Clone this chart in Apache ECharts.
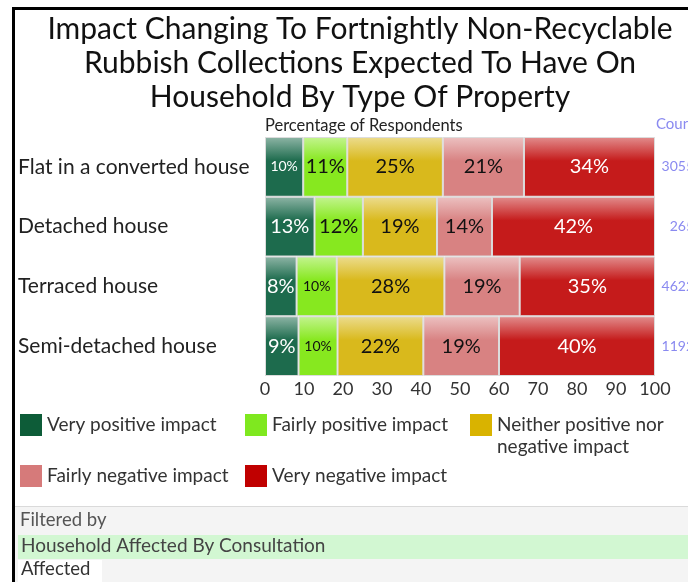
<!DOCTYPE html>
<html>
<head>
<meta charset="utf-8">
<script src="https://cdn.jsdelivr.net/npm/echarts@6/dist/echarts.min.js"></script>
<style>
  html, body { margin: 0; padding: 0; background: #fff; }
  #chart { width: 688px; height: 582px; }
</style>
</head>
<body>
<div id="chart"></div>
<script>
// categories (top to bottom)
var categories = ["Flat in a converted house", "Detached house", "Terraced house", "Semi-detached house"];
var counts = ["3055", "265", "4622", "1192"];
var seriesNames = ["Very positive impact", "Fairly positive impact", "Neither positive nor\nnegative impact", "Fairly negative impact", "Very negative impact"];
// percentages
var veryPositive = [9.8, 12.7, 8.1, 8.6];
var fairlyPositive = [11.3, 12.4, 10.3, 10.0];
var neither = [24.5, 19.0, 27.6, 22.0];
var fairlyNegative = [20.8, 14.1, 19.3, 19.4];
var veryNegative = [33.6, 41.8, 34.7, 40.0];
var xTicks = [0, 10, 20, 30, 40, 50, 60, 70, 80, 90, 100];

var barColors = ["#1d6b4d", "#87e81f", "#d9b91c", "#d88282", "#c51b1b"];
var legendColors = ["#0d5c38", "#7fe81f", "#d9b300", "#d67a7a", "#c00000"];
var labelColors = ["#fff", "#111", "#111", "#111", "#fff"];

var FONT = "Lato";
var gridLeft = 265, gridRight = 655;
var pxPerPct = (gridRight - gridLeft) / 100;

function lighten(hex, t) {
  var r = parseInt(hex.substr(1, 2), 16), g = parseInt(hex.substr(3, 2), 16), b = parseInt(hex.substr(5, 2), 16);
  r = Math.round(r + (255 - r) * t); g = Math.round(g + (255 - g) * t); b = Math.round(b + (255 - b) * t);
  return "rgb(" + r + "," + g + "," + b + ")";
}

// big text if it fits in the bar, otherwise small
function barLabel(v) {
  var txt = Math.round(v) + "%";
  var w = (txt.length - 1) * 10 + 13;
  return (w + 8 > v * pxPerPct) ? "{s|" + txt + "}" : "{b|" + txt + "}";
}

var allData = [veryPositive, fairlyPositive, neither, fairlyNegative, veryNegative];

var series = allData.map(function (d, i) {
  return {
    name: seriesNames[i],
    type: "bar",
    stack: "total",
    data: d,
    barCategoryGap: 0,
    itemStyle: {
      color: new echarts.graphic.LinearGradient(0, 0, 0, 1, [
        { offset: 0, color: lighten(barColors[i], 0.5) },
        { offset: 0.4, color: barColors[i] },
        { offset: 1, color: barColors[i] }
      ]),
      borderColor: "#dcdcdc",
      borderWidth: 1
    },
    label: {
      show: true,
      position: "inside",
      formatter: function (p) { return barLabel(p.value); },
      rich: {
        b: { fontSize: 20, fontFamily: FONT, color: labelColors[i] },
        s: { fontSize: 14, fontFamily: FONT, color: labelColors[i] }
      }
    }
  };
});

var legendText = { fontFamily: FONT, fontSize: 19, color: "#333", width: 190, lineHeight: 22 };

function legendItems(from, to) {
  var out = [];
  for (var i = from; i < to; i++) {
    out.push({ name: seriesNames[i], itemStyle: { color: legendColors[i], borderWidth: 0 } });
  }
  return out;
}

// a blank first line keeps a wrapped name's first line level with the square
function legendName(name) {
  return name.indexOf("\n") >= 0 ? " \n" + name : name;
}

var chart = echarts.init(document.getElementById("chart"), null, { renderer: "canvas" });
chart.setOption({
  animation: false,
  title: {
    text: "Impact Changing To Fortnightly Non-Recyclable\nRubbish Collections Expected To Have On\nHousehold By Type Of Property",
    left: 355,
    textAlign: "center",
    top: 7,
    textStyle: { fontFamily: FONT, fontSize: 30, fontWeight: "normal", color: "#111", lineHeight: 34 }
  },
  grid: { left: gridLeft, right: 688 - gridRight, top: 137, bottom: 582 - 376, outerBoundsMode: "none", containLabel: false },
  xAxis: {
    type: "value",
    min: 0, max: 100, interval: 10,
    axisLine: { show: false },
    axisTick: { show: false },
    splitLine: { show: false },
    axisLabel: {
      margin: 4,
      fontFamily: FONT, fontSize: 18, color: "#333",
      formatter: function (v) { return xTicks.indexOf(v) >= 0 ? String(v) : ""; }
    }
  },
  yAxis: [
    {
      type: "category",
      data: categories,
      inverse: true,
      axisLine: { show: false },
      axisTick: { show: false },
      axisLabel: { align: "left", margin: gridLeft - 18, fontFamily: FONT, fontSize: 21, color: "#222" }
    },
    {
      type: "category",
      data: counts,
      inverse: true,
      position: "right",
      axisLine: { show: false },
      axisTick: { show: false },
      axisLabel: { align: "right", margin: 39, fontFamily: FONT, fontSize: 14, color: "#8a8af0" }
    }
  ],
  legend: [
    {
      left: 20, top: 392, padding: 0,
      itemWidth: 22, itemHeight: 22, itemGap: 8,
      icon: "rect", align: "left", orient: "horizontal",
      formatter: legendName,
      textStyle: legendText,
      data: legendItems(0, 3)
    },
    {
      left: 20, top: 465, padding: 0,
      itemWidth: 22, itemHeight: 22, itemGap: 8,
      icon: "rect", align: "left", orient: "horizontal",
      textStyle: legendText,
      data: legendItems(3, 5)
    }
  ],
  graphic: [
    // footer
    { type: "rect", shape: { x: 15, y: 506, width: 673, height: 76 }, style: { fill: "#f4f4f4" } },
    { type: "rect", shape: { x: 15, y: 506, width: 673, height: 1 }, style: { fill: "#dadada" } },
    { type: "text", left: 20, top: 511, style: { text: "Filtered by", fontFamily: FONT, fontSize: 18.5, fill: "#555" } },
    { type: "rect", shape: { x: 18, y: 535, width: 670, height: 24 }, style: { fill: "#d2f7d2" } },
    { type: "text", left: 21, top: 536, style: { text: "Household Affected By Consultation", fontFamily: FONT, fontSize: 19, fill: "#444" } },
    { type: "rect", shape: { x: 18, y: 560, width: 84, height: 22 }, style: { fill: "#fff" } },
    { type: "text", left: 21, top: 560, style: { text: "Affected", fontFamily: FONT, fontSize: 18.5, fill: "#333" } },
    // headers
    { type: "text", left: 265, top: 117, style: { text: "Percentage of Respondents", fontFamily: FONT, fontSize: 16.5, fill: "#222" } },
    { type: "text", left: 656, top: 117, style: { text: "Count", fontFamily: FONT, fontSize: 15, fill: "#8a8af0" } },
    // frame
    { type: "rect", shape: { x: 12, y: 7, width: 676, height: 3 }, style: { fill: "#000" } },
    { type: "rect", shape: { x: 12, y: 7, width: 3, height: 575 }, style: { fill: "#000" } }
  ],
  series: series
});
</script>
</body>
</html>
